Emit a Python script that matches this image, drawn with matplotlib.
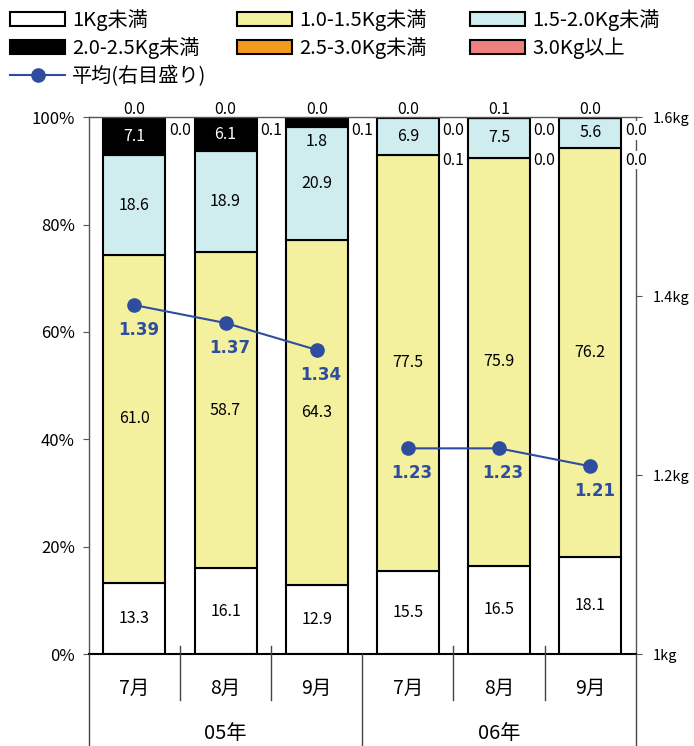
import numpy as np
import matplotlib
matplotlib.use('Agg')
import matplotlib.pyplot as plt
from matplotlib.patches import Patch
from matplotlib.lines import Line2D

plt.rcParams['font.family'] = ['Noto Sans CJK JP', 'DejaVu Sans']

# data
years = ['05年', '06年']
months = ['7月', '8月', '9月', '7月', '8月', '9月']
seg_names = ['1Kg未満', '1.0-1.5Kg未満', '1.5-2.0Kg未満',
             '2.0-2.5Kg未満', '2.5-3.0Kg未満', '3.0Kg以上']
seg_colors = ['#FFFFFF', '#F3F09E', '#CFECEF', '#000000', '#F39A1E', '#F08080']
under_1 = [13.3, 16.1, 12.9, 15.5, 16.5, 18.1]
kg_10_15 = [61.0, 58.7, 64.3, 77.5, 75.9, 76.2]
kg_15_20 = [18.6, 18.9, 20.9, 6.9, 7.5, 5.6]
kg_20_25 = [7.1, 6.1, 1.8, 0.1, 0.0, 0.0]
kg_25_30 = [0.0, 0.1, 0.1, 0.0, 0.0, 0.0]
over_30 = [0.0, 0.0, 0.0, 0.0, 0.1, 0.0]
avg_label = '平均(右目盛り)'
avg_05 = [1.39, 1.37, 1.34]
avg_06 = [1.23, 1.23, 1.21]

segs = [under_1, kg_10_15, kg_15_20, kg_20_25, kg_25_30, over_30]
x = np.arange(len(months))
blue = '#2E4D9F'
fs = 11.5

fig = plt.figure(figsize=(6.94, 7.46), dpi=100)
ax = fig.add_axes([0.128, 0.123, 0.788, 0.72])

bottom = np.zeros(len(months))
for k, vals in enumerate(segs):
    vals = np.array(vals)
    ax.bar(x, vals, bottom=bottom, width=0.68, color=seg_colors[k],
           edgecolor='black', linewidth=1.5, zorder=2)
    for i, v in enumerate(vals):
        top = bottom[i] + v
        if k < 3 or (k == 3 and v >= 5):
            ax.text(x[i], bottom[i] + v / 2, f'{v:.1f}', ha='center', va='center',
                    fontsize=fs, color='white' if k == 3 else 'black', zorder=4)
        elif k == 3 and v >= 1:
            ax.text(x[i], top - 4.5, f'{v:.1f}', ha='center', va='center',
                    fontsize=fs, zorder=4)
        elif k == 3:
            ax.text(x[i] + 0.5, 92.0, f'{v:.1f}', ha='center', va='center',
                    fontsize=fs, zorder=4, clip_on=False,
                    bbox=dict(facecolor='white', edgecolor='none', pad=0.5))
        elif k == 4:
            ax.text(x[i] + 0.5, 97.5, f'{v:.1f}', ha='center', va='center',
                    fontsize=fs, zorder=4, clip_on=False,
                    bbox=dict(facecolor='white', edgecolor='none', pad=0.5))
        else:
            ax.text(x[i], 101.4, f'{v:.1f}', ha='center', va='center',
                    fontsize=fs, zorder=4, clip_on=False)
    bottom += vals

ax.set_xlim(-0.5, len(months) - 0.5)
ax.set_ylim(0, 100)
ax.set_yticks(np.arange(0, 101, 20))
ax.set_yticklabels([f'{v}%' for v in range(0, 101, 20)], fontsize=12)
ax.tick_params(axis='y', direction='out', length=4, color='#555555', pad=6)
ax.set_xticks([])
for s in ['left', 'top', 'right']:
    ax.spines[s].set_color('#555555')
    ax.spines[s].set_linewidth(1.0)
ax.spines['bottom'].set_linewidth(1.5)

# category separators below the axis
for b in np.arange(0.5, len(months) - 0.5, 1.0):
    if b == 2.5:
        continue
    ax.plot([b, b], [1.5, -8.5], color='#444444', lw=1, clip_on=False, zorder=3)
for b in [-0.5, 2.5, len(months) - 0.5]:
    ax.plot([b, b], [0, -17.2], color='#444444', lw=1, clip_on=False, zorder=3)
for i, m in enumerate(months):
    ax.text(x[i], -6.3, m, ha='center', va='center', fontsize=14)
for j, yr in enumerate(years):
    ax.text(1 + 3 * j, -14.8, yr, ha='center', va='center', fontsize=14.5)

# right axis: average weight
ax2 = ax.twinx()
ax2.set_ylim(1.0, 1.6)
ax2.set_yticks([1.0, 1.2, 1.4, 1.6])
ax2.set_yticklabels(['1kg', '1.2kg', '1.4kg', '1.6kg'], fontsize=10.5)
ax2.tick_params(axis='y', direction='out', length=4, color='#555555', pad=8)
for s in ax2.spines.values():
    s.set_visible(False)
ax2.plot(x[:3], avg_05, color=blue, lw=1.5, marker='o', markersize=9.5, zorder=5)
ax2.plot(x[3:], avg_06, color=blue, lw=1.5, marker='o', markersize=9.5, zorder=5)
for xi, v in zip(x, avg_05 + avg_06):
    ax2.text(xi + 0.045, v - 0.028, f'{v:.2f}', ha='center', va='center',
             fontsize=12, fontweight='bold', color=blue, zorder=6,
             family='DejaVu Sans')

# legend: three columns placed separately
handles = [Patch(facecolor=c, edgecolor='black', linewidth=1.5) for c in seg_colors]
handles.append(Line2D([], [], color=blue, lw=1.5, marker='o', markersize=9.5))
labels = seg_names + [avg_label]
columns = [[0, 3, 6], [1, 4], [2, 5]]
col_x = [10, 237, 470]
for cx, idx in zip(col_x, columns):
    leg = fig.legend([handles[i] for i in idx], [labels[i] for i in idx],
                     loc='upper left', bbox_to_anchor=(cx / 694, 1 - 9 / 746),
                     ncol=1, frameon=False, fontsize=14.5, handlelength=2.75,
                     handleheight=0.7, handletextpad=0.35, labelspacing=0.33,
                     borderpad=0, borderaxespad=0)

fig.savefig('out.png', dpi=100)
